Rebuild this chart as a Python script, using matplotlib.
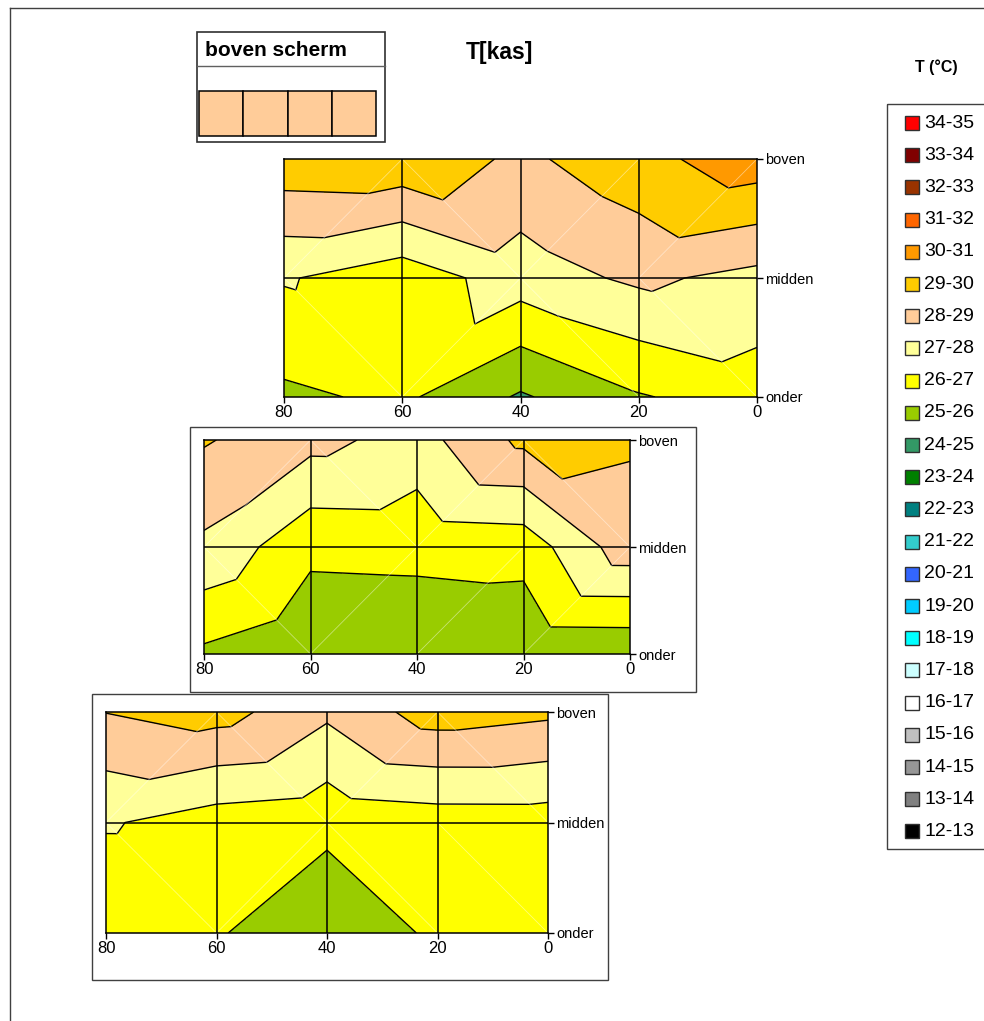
import numpy as np
import matplotlib
matplotlib.use("Agg")
import matplotlib.pyplot as plt
import matplotlib.tri as mtri
from matplotlib.patches import Rectangle

plt.rcParams['font.family'] = ['Liberation Sans', 'DejaVu Sans']

W, H = 984, 1021

# grid of the surface chart: x positions and the three heights
x_pos = [80, 60, 40, 20, 0]
y_names = ['onder', 'midden', 'boven']

# T[kas] per panel, rows = onder, midden, boven ; columns follow x_pos
t_top = [[25.81, 26.19, 24.88, 25.92, 26.50],
         [27.09, 26.41, 27.51, 28.19, 27.70],
         [29.69, 29.78, 28.78, 29.68, 30.58]]
t_mid = [[25.81, 25.16, 25.20, 25.12, 25.15],
         [27.80, 26.25, 26.30, 26.41, 28.60],
         [29.09, 28.31, 27.60, 29.23, 29.10]]
t_low = [[26.10, 26.11, 25.07, 26.22, 26.30],
         [27.10, 26.52, 26.31, 26.50, 26.51],
         [29.02, 29.41, 28.19, 29.49, 29.20]]

# legend bands, low to high
band_labels = ['12-13', '13-14', '14-15', '15-16', '16-17', '17-18', '18-19',
               '19-20', '20-21', '21-22', '22-23', '23-24', '24-25', '25-26',
               '26-27', '27-28', '28-29', '29-30', '30-31', '31-32', '32-33',
               '33-34', '34-35']
band_colors = ['#000000', '#808080', '#969696', '#C0C0C0', '#FFFFFF', '#CCFFFF',
               '#00FFFF', '#00CCFF', '#3366FF', '#33CCCC', '#008080', '#008000',
               '#339966', '#99CC00', '#FFFF00', '#FFFF99', '#FFCC99', '#FFCC00',
               '#FF9900', '#FF6600', '#993300', '#800000', '#FF0000']
levels = np.arange(12, 36)


def px_rect(x0, y0, x1, y1):
    return [x0 / W, 1 - y1 / H, (x1 - x0) / W, (y1 - y0) / H]


def excel_tri(z):
    # every cell split in two, along the diagonal joining the warmer pair
    z = np.asarray(z, float)
    ny, nx = z.shape
    xs, ys = [], []
    for j in range(ny):
        for i in range(nx):
            xs.append(x_pos[i]); ys.append(j)
    tris, diags = [], []
    for j in range(ny - 1):
        for i in range(nx - 1):
            bl = j * nx + i
            br = bl + 1
            tl = bl + nx
            tr = tl + 1
            if z[j, i] + z[j + 1, i + 1] >= z[j, i + 1] + z[j + 1, i]:
                tris += [[bl, br, tr], [bl, tr, tl]]
                diags.append(((x_pos[i], x_pos[i + 1]), (j, j + 1)))
            else:
                tris += [[bl, br, tl], [br, tr, tl]]
                diags.append(((x_pos[i + 1], x_pos[i]), (j, j + 1)))
    return mtri.Triangulation(xs, ys, tris), z.ravel(), diags


def draw_panel(rect, z):
    ax = fig.add_axes(px_rect(*rect))
    ax.set_zorder(2)
    tri, zz, diags = excel_tri(z)
    ax.tricontourf(tri, zz, levels=levels, colors=band_colors)
    ax.tricontour(tri, zz, levels=levels, colors='black', linewidths=1.0)
    for dx, dy in diags:
        ax.plot(dx, dy, color='white', lw=0.6, alpha=0.45)
    for xv in x_pos[1:-1]:
        ax.axvline(xv, color='black', lw=1.1)
    ax.axhline(1, color='black', lw=1.1)
    ax.set_xlim(80, 0)
    ax.set_ylim(0, 2)
    ax.set_xticks(x_pos)
    ax.set_xticklabels([str(v) for v in x_pos], fontsize=12)
    ax.set_yticks([0, 1, 2])
    ax.set_yticklabels(y_names, fontsize=10.5)
    ax.yaxis.tick_right()
    ax.tick_params(direction='out', length=4, width=1, pad=2)
    for s in ax.spines.values():
        s.set_color('black')
        s.set_linewidth(1.1)
    return ax


fig = plt.figure(figsize=(W / 100, H / 100), dpi=100)

# overlay in pixel coordinates for frames, titles and legend
ov = fig.add_axes([0, 0, 1, 1])
ov.set_xlim(0, W)
ov.set_ylim(H, 0)
ov.axis('off')
ov.set_zorder(0)

ov.plot([10, 10], [8, H + 5], color='#404040', lw=1)
ov.plot([10, W + 5], [8, 8], color='#404040', lw=1)

# boven scherm box
ov.add_patch(Rectangle((197, 32), 188, 110, fill=False, ec='#303030', lw=1.2))
ov.plot([197, 385], [66.5, 66.5], color='#606060', lw=1)
ov.text(205, 50, 'boven scherm', fontsize=15, fontweight='bold', va='center', ha='left')
for k in range(4):
    ov.add_patch(Rectangle((199 + k * 44.3, 91), 44.3, 45.5, fc='#FFCC99', ec='black', lw=1.1))

ov.text(466, 52, 'T[kas]', fontsize=16.5, fontweight='bold', va='center', ha='left')
ov.text(936, 67, 'T (°C)', fontsize=11.5, fontweight='bold', va='center', ha='center')

# panel frames
ov.add_patch(Rectangle((190, 427), 506, 265, fill=False, ec='#404040', lw=1))
ov.add_patch(Rectangle((92, 694), 516, 286, fill=False, ec='#404040', lw=1))

# legend
ov.add_patch(Rectangle((887, 104), 120, 745, fill=False, ec='#404040', lw=1))
for i, (lab, col) in enumerate(zip(band_labels[::-1], band_colors[::-1])):
    yc = 123 + i * 32.2
    ov.add_patch(Rectangle((905, yc - 7), 14, 14, fc=col, ec='#303030', lw=1))
    ov.text(924, yc, lab, fontsize=14, va='center', ha='left')

draw_panel((284, 159, 757, 397), t_top)
draw_panel((204, 440, 630, 654), t_mid)
draw_panel((106, 712, 548, 933), t_low)

fig.savefig('out.png', dpi=100)
